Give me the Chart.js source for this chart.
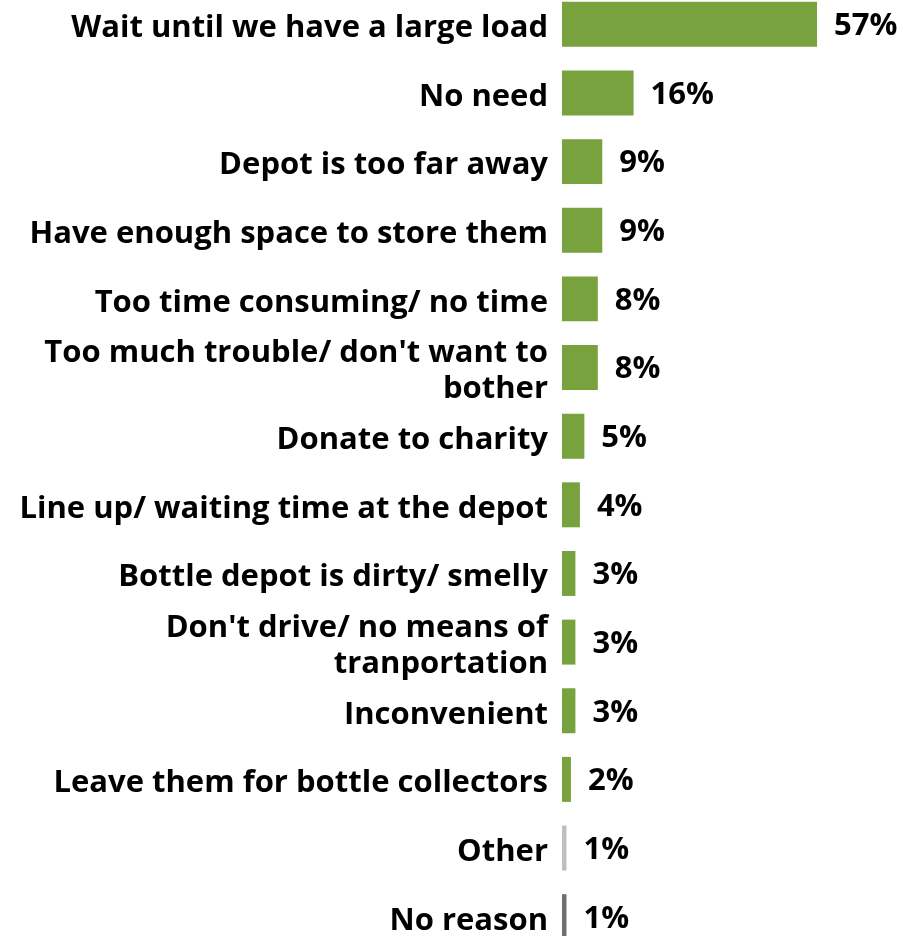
<!DOCTYPE html>
<html>
<head>
<meta charset="utf-8">
<script src="https://cdn.jsdelivr.net/npm/chart.js@4"></script>
<style>
  html, body { margin: 0; padding: 0; background: #fff; overflow: hidden; }
  #chart1 { position: absolute; left: 0; top: -10px; }
</style>
</head>
<body>
<canvas id="chart1" width="911" height="961"></canvas>
<script>
// reasons for not returning bottles more often
const reasons = [
    'Wait until we have a large load',
    'No need',
    'Depot is too far away',
    'Have enough space to store them',
    'Too time consuming/ no time',
    ['Too much trouble/ don\'t want to', 'bother'],
    'Donate to charity',
    'Line up/ waiting time at the depot',
    'Bottle depot is dirty/ smelly',
    ['Don\'t drive/ no means of', 'tranportation'],
    'Inconvenient',
    'Leave them for bottle collectors',
    'Other',
    'No reason'
]
const percents = [57, 16, 9, 9, 8, 8, 5, 4, 3, 3, 3, 2, 1, 1]

const green = '#78A23E'
const barColors = reasons.map(r => {
    if (r === 'Other') return '#BFBFBF'
    if (r === 'No reason') return '#6F6F6F'
    return green
})

const labelFont = { family: 'Open Sans', size: 31, weight: 'bold' }

// percent text to the right of each bar
const valueLabels = {
    id: 'valueLabels',
    afterDatasetsDraw(chart) {
        const { ctx } = chart
        const meta = chart.getDatasetMeta(0)
        ctx.save()
        ctx.font = `bold ${labelFont.size}px ${labelFont.family}`
        ctx.fillStyle = '#000'
        ctx.textAlign = 'left'
        ctx.textBaseline = 'middle'
        meta.data.forEach((bar, i) => {
            ctx.fillText(percents[i] + '%', bar.x + 17, bar.y + 2)
        })
        ctx.restore()
    }
}

// nudge the category text a little below the bar centre
const labelNudge = {
    id: 'labelNudge',
    beforeDraw(chart) {
        const items = chart.scales.y.getLabelItems()
        if (items._nudged) return
        items.forEach(it => { it.options.translation[1] += 4 })
        items._nudged = true
    }
}

const data = {
    labels: reasons,
    datasets: [{
        data: percents,
        backgroundColor: barColors,
        borderWidth: 0,
        categoryPercentage: 1,
        barPercentage: 0.655
    }]
}

const options = {
    indexAxis: 'y',
    responsive: false,
    animation: false,
    layout: { padding: 0 },
    plugins: {
        legend: { display: false },
        tooltip: { enabled: false }
    },
    scales: {
        x: {
            display: false,
            min: 0,
            max: 78
        },
        y: {
            grid: { display: false, drawTicks: false },
            border: { display: false },
            ticks: {
                color: '#000',
                font: { ...labelFont, lineHeight: 1.16 },
                padding: 14,
                autoSkip: false
            },
            afterFit(scale) {
                scale.width = 562
                scale.paddingTop = 0
                scale.paddingBottom = 0
            }
        }
    }
}

new Chart('chart1', { type: 'bar', data, options, plugins: [valueLabels, labelNudge] })
</script>
</body>
</html>
